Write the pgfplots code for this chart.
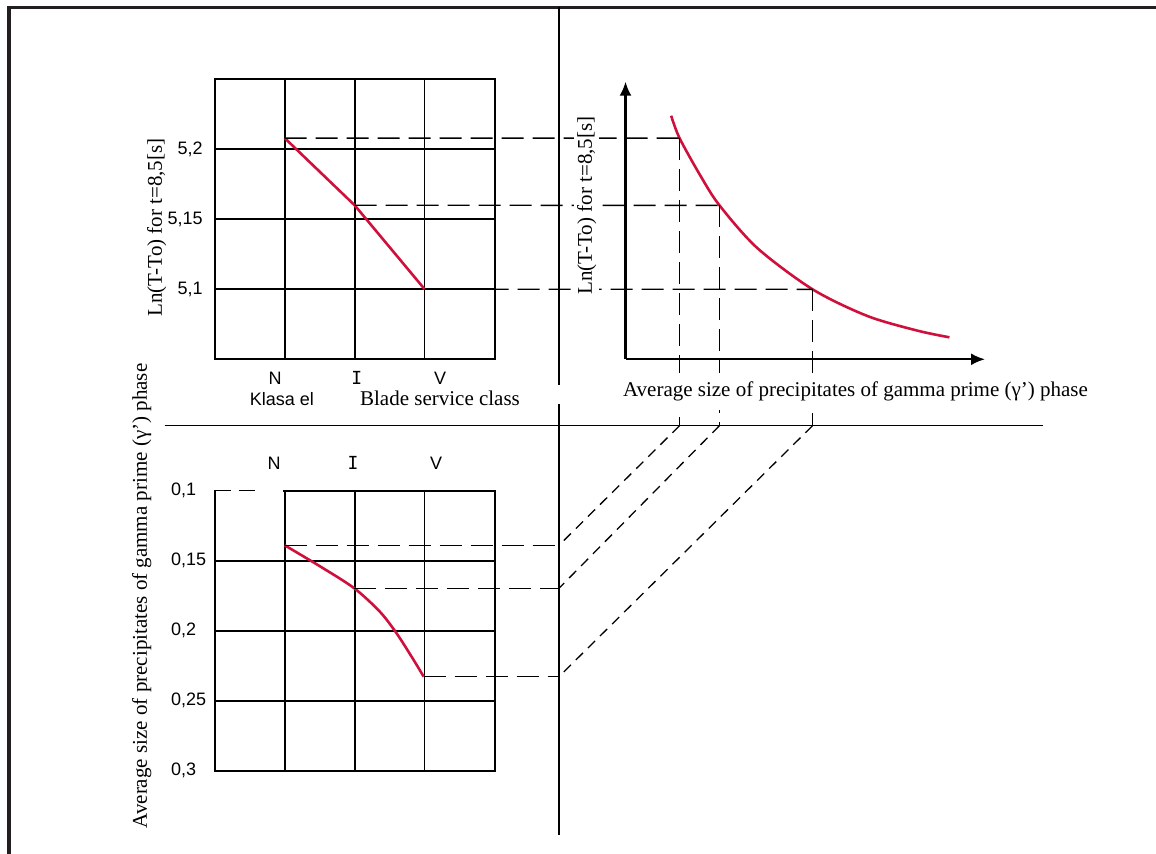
\documentclass[border=0pt]{standalone}
\usepackage{fontspec}
\setmainfont{Liberation Serif}
\newfontfamily\sansf{Liberation Sans}
\newfontfamily\monof{DejaVu Sans Mono}
\usepackage{pgfplots}
\pgfplotsset{compat=1.18}
\usetikzlibrary{arrows.meta}
\definecolor{curvered}{HTML}{D0103C}
\definecolor{framecol}{HTML}{231F20}
\newcommand\lab{\fontsize{10.5}{12}\selectfont}
\newcommand\tlab{\sansf\fontsize{9}{10}\selectfont}

\begin{document}
\begin{tikzpicture}
\pgfplotsset{
  gridbox/.style={
    scale only axis, width=140pt, height=140pt,
    xmin=0, xmax=4, xtick={1,2,3}, xticklabels={},
    grid=major, grid style={black, line width=0.8pt},
    axis line style={line width=0.85pt},
    major tick length=0pt,
    tick label style={font=\tlab},
  },
  red curve/.style={curvered, line width=1.3pt, mark=none},
}

% Ln(T-To) against blade service class
\begin{axis}[gridbox, at={(107.35pt,-179.65pt)}, anchor=south west,
  ymin=5.05, ymax=5.25, ytick={5.1,5.15,5.2},
  yticklabels={{5,1},{5,15},{5,2}},
  yticklabel style={xshift=-2.5pt}]
\addplot[red curve] coordinates {(1,5.208) (2,5.160) (3,5.100)};
\coordinate (aN) at (axis cs:1,5.208);
\coordinate (aI) at (axis cs:2,5.160);
\coordinate (aV) at (axis cs:3,5.100);
\end{axis}

% Ln(T-To) against gamma prime size
\begin{axis}[scale only axis, at={(312.75pt,-179.65pt)}, anchor=south west,
  width=179.75pt, height=138.8pt,
  xmin=0.1, xmax=0.3568, ymin=5.05, ymax=5.2483,
  axis x line=bottom, axis y line=left, xtick=\empty, ytick=\empty,
  axis line style={line width=1.1pt},
  x axis line style={-{Latex[length=7pt,width=6pt]}},
  y axis line style={-{Latex[length=7pt,width=6pt]}}]
\addplot[red curve, smooth] coordinates {
  (0.1326,5.2240) (0.1386,5.2080) (0.1536,5.1810) (0.1671,5.1600)
  (0.1941,5.1295) (0.2336,5.1000) (0.2726,5.0810) (0.3084,5.0705)
  (0.3314,5.0657)};
\coordinate (bN) at (axis cs:0.1386,5.208);
\coordinate (bI) at (axis cs:0.1671,5.160);
\coordinate (bV) at (axis cs:0.2336,5.100);
\end{axis}

% gamma prime size against blade service class
\begin{axis}[gridbox, at={(107.35pt,-385.35pt)}, anchor=south west,
  y dir=reverse, ymin=0.1, ymax=0.3,
  ytick={0.1,0.15,0.2,0.25,0.3},
  yticklabels={{0,1},{0,15},{0,2},{0,25},{0,3}},
  yticklabel style={anchor=west, xshift=-25.3pt}]
\addplot[red curve, smooth] coordinates {
  (1,0.1390) (1.504,0.1540) (1.994,0.1697) (2.361,0.1865)
  (2.599,0.2019) (2.837,0.2205) (2.985,0.2328)};
\coordinate (cN) at (axis cs:1,0.1390);
\coordinate (cI) at (axis cs:1.994,0.1697);
\coordinate (cV) at (axis cs:2.985,0.2328);
\end{axis}

\begin{scope}[x=0.5pt, y=-0.5pt]
\tikzset{
  guide/.style={line width=0.7pt, dash pattern=on 11pt off 4.5pt},
  diag/.style={line width=0.65pt, dash pattern=on 5pt off 3.5pt},
}
% frame and separators
\draw[framecol, line width=1.6pt] (9,900) -- (9,7.5) -- (1200,7.5);
\draw[line width=0.8pt] (559,7.5) -- (559,835);
\draw[line width=0.8pt] (164.5,425.7) -- (1042.7,425.7);
\fill[white] (550,385) rectangle (568,404);

% top edge of lower grid partly dashed
\draw[white, line width=1.4pt] (216,490.7) -- (283,490.7);
\draw[line width=0.8pt, dash pattern=on 8pt off 4pt] (214.7,490.7) -- (258,490.7);

% reading lines
\draw[guide] (aN) -- (bN);
\draw[guide] (aI) -- (bI);
\draw[guide] (aV) -- (bV);
\draw[guide] (bN) -- (bN |- 0,425.7);
\draw[guide] (bI) -- (bI |- 0,425.7);
\draw[guide] (bV) -- (bV |- 0,425.7);
\draw[diag] (bN |- 0,425.7) -- (cN -| 559,0);
\draw[diag] (bI |- 0,425.7) -- (cI -| 559,0);
\draw[diag] (bV |- 0,425.7) -- (cV -| 559,0);
\draw[guide] (cN) -- (cN -| 559,0);
\draw[guide] (cI) -- (cI -| 559,0);
\draw[guide] (cV) -- (cV -| 559,0);

% texts
\node[font=\lab, rotate=90, fill=white, inner sep=1pt] at (156.7,227.5) {Ln(T-To) for t=8,5[s]};
\node[font=\lab, rotate=90, fill=white, inner sep=1.5pt] at (586.7,205.6) {Ln(T-To) for t=8,5[s]};
\node[font=\lab, fill=white, inner xsep=2pt, inner ysep=4.5pt] at (855.5,391.7) {Average size of precipitates of gamma prime (γ’) phase};
\node[font=\lab, rotate=90] at (141.7,596) {Average size of precipitates of gamma prime (γ’) phase};
\node[font=\lab] at (440,398.3) {Blade service class};
\node[font=\tlab] at (282,399) {Klasa el};
\node[font=\tlab] at (275,378) {N};
\node[font=\monof\fontsize{9}{10}\selectfont] at (356.7,378) {I};
\node[font=\tlab] at (440,378) {V};
\node[font=\tlab] at (274,463.3) {N};
\node[font=\monof\fontsize{9}{10}\selectfont] at (353,463.3) {I};
\node[font=\tlab] at (436,463.3) {V};

\pgfresetboundingbox
\useasboundingbox (0,0) rectangle (1156,854);
\end{scope}
\end{tikzpicture}
\end{document}
